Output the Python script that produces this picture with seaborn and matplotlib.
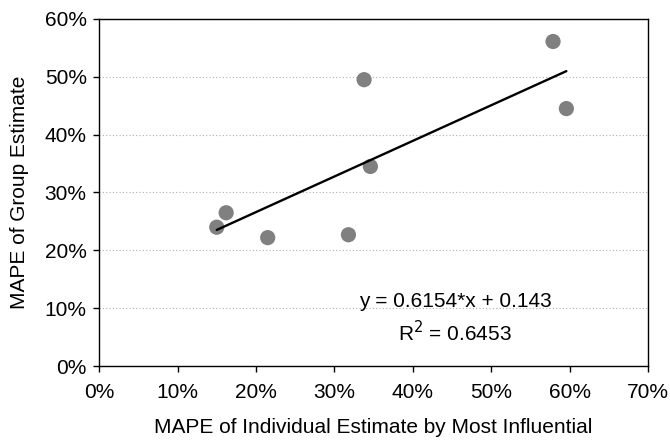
import numpy as np
import pandas as pd
import matplotlib
matplotlib.use("Agg")
import matplotlib.pyplot as plt
import seaborn as sns
from matplotlib.ticker import PercentFormatter

individual = [0.150, 0.162, 0.215, 0.318, 0.338, 0.346, 0.579, 0.596]
group = [0.240, 0.265, 0.222, 0.227, 0.495, 0.345, 0.561, 0.445]
slope = 0.6154
intercept = 0.143
r_squared = 0.6453

data = pd.DataFrame({'Individual': individual, 'Group': group})

sns.set_style('white')
plt.rcParams['font.family'] = ['Liberation Sans', 'DejaVu Sans']
plt.rcParams['text.color'] = 'black'
plt.rcParams['axes.labelcolor'] = 'black'
plt.rcParams['xtick.color'] = 'black'
plt.rcParams['ytick.color'] = 'black'

fig = plt.figure(figsize=(6.7, 4.4), dpi=100)
ax = fig.add_axes([0.148, 0.168, 0.819, 0.789])

ax.grid(True, axis='y', linestyle=(0, (1, 2)), color='#b0b0b0', linewidth=0.8)
ax.set_axisbelow(True)

sns.scatterplot(x='Individual', y='Group', data=data, color='#808080', s=120,
                edgecolor='none', ax=ax, zorder=3)

fit_x = np.array([min(individual), max(individual)])
fit = pd.DataFrame({'x': fit_x, 'y': slope * fit_x + intercept})
sns.lineplot(x='x', y='y', data=fit, color='black', linewidth=1.7, ax=ax, zorder=4)

ax.text(0.454, 0.112, f'y = {slope}*x + {intercept}', ha='center', va='center', fontsize=15)
ax.text(0.454, 0.057, f'R$^2$ = {r_squared}', ha='center', va='center', fontsize=15)

ax.set_xlim(0, 0.7)
ax.set_ylim(0, 0.6)
ax.set_xticks(np.arange(0, 0.71, 0.1))
ax.set_yticks(np.arange(0, 0.61, 0.1))
ax.xaxis.set_major_formatter(PercentFormatter(1.0, decimals=0))
ax.yaxis.set_major_formatter(PercentFormatter(1.0, decimals=0))
ax.tick_params(axis='both', direction='out', length=4, width=1,
               labelsize=15, bottom=True, left=True)
ax.tick_params(axis='x', pad=8)
ax.tick_params(axis='y', pad=5)

for sp in ax.spines.values():
    sp.set_color('black')
    sp.set_linewidth(1)

ax.set_xlabel('MAPE of Individual Estimate by Most Influential', fontsize=15, labelpad=12)
ax.set_ylabel('MAPE of Group Estimate', fontsize=15, labelpad=11)

plt.savefig('out.png', dpi=100)
